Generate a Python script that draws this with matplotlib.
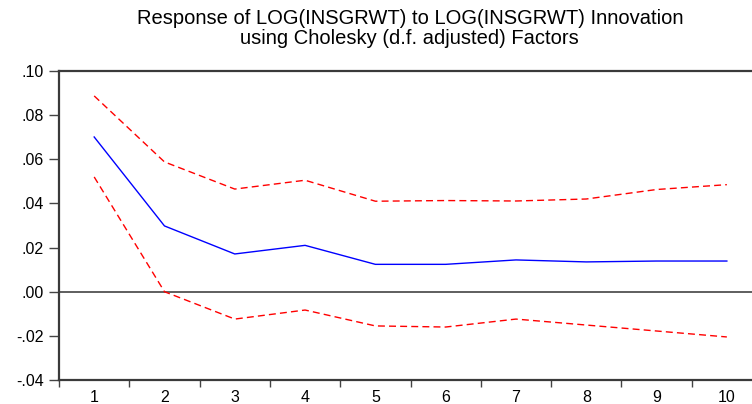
import matplotlib
matplotlib.use("Agg")
import matplotlib.pyplot as plt
import numpy as np

plt.rcParams['font.family'] = ['Liberation Sans', 'DejaVu Sans']

# data
periods = [1, 2, 3, 4, 5, 6, 7, 8, 9, 10]
response = [0.0701, 0.0298, 0.0171, 0.0210, 0.0124, 0.0124, 0.0144, 0.0135, 0.0139, 0.0139]
upper = [0.0887, 0.0588, 0.0465, 0.0505, 0.0410, 0.0413, 0.0411, 0.0420, 0.0463, 0.0485]
lower = [0.0520, 0.0000, -0.0124, -0.0083, -0.0155, -0.0160, -0.0124, -0.0151, -0.0178, -0.0205]
yticks = [-0.04, -0.02, 0.00, 0.02, 0.04, 0.06, 0.08, 0.10]
ylabels = ['-.04', '-.02', '.00', '.02', '.04', '.06', '.08', '.10']

fig = plt.figure(figsize=(7.52, 4.04), dpi=100)
ax = fig.add_axes([0.0785, 0.0594, 0.9348, 0.7649])

ax.axhline(0, color='#333333', lw=1.1, zorder=1)
ax.plot(periods, response, color='#0000ff', lw=1.0)
ax.plot(periods, upper, color='#ff0000', lw=1.0, ls=(0, (5, 3)))
ax.plot(periods, lower, color='#ff0000', lw=1.0, ls=(0, (5, 3)))

ax.set_xlim(0.5, 10.5)
ax.set_ylim(-0.04, 0.10)

# y axis
ax.set_yticks(yticks)
ax.set_yticklabels(ylabels, fontsize=11.5)
ax.tick_params(axis='y', direction='out', length=7, width=1.0, color='#444444', pad=4)

# x axis: ticks between periods, labels centred on periods
ax.set_xticks(np.arange(0.5, 11, 1.0))
ax.set_xticklabels([])
ax.set_xticks(periods, minor=True)
ax.set_xticklabels([str(p) for p in periods], minor=True, fontsize=11.5)
ax.tick_params(axis='x', which='major', direction='out', length=5, width=1.0, color='#444444')
ax.tick_params(axis='x', which='minor', length=0, pad=7)

for side in ['left', 'top', 'bottom']:
    ax.spines[side].set_color('#3a3a3a')
    ax.spines[side].set_linewidth(1.6)
ax.spines['right'].set_visible(False)

fig.text(0.545, 0.978, 'Response of LOG(INSGRWT) to LOG(INSGRWT) Innovation\nusing Cholesky (d.f. adjusted) Factors',
         ha='center', va='top', fontsize=14.5, linespacing=1.1)

fig.savefig('out.png', dpi=100)
